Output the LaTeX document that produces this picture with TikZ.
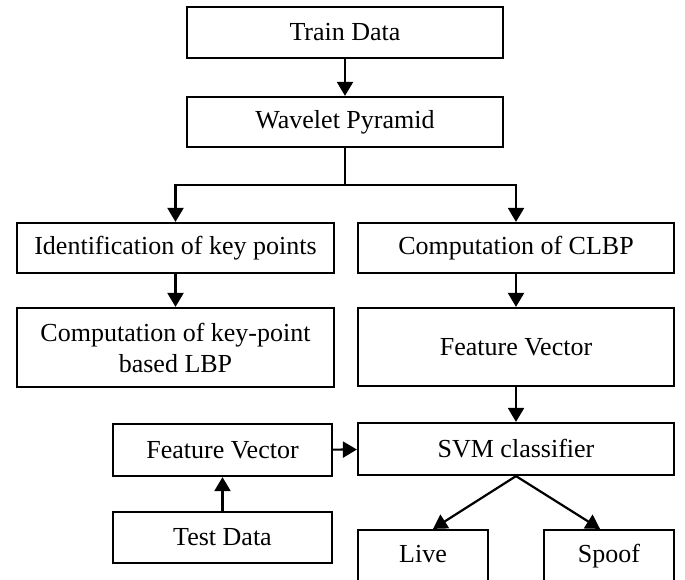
\documentclass[tikz,border=0pt]{standalone}
\usepackage{fontspec}
\setmainfont{Liberation Serif}
\usetikzlibrary{arrows.meta,calc}
\begin{document}
\begin{tikzpicture}[x=1pt,y=-1pt,
  box/.style={draw=black,line width=2.2pt,rectangle,inner sep=0pt,align=center,
    font=\fontsize{26}{31}\selectfont},
  even/.style={text height=18pt,text depth=6pt},
  conn/.style={line width=2.2pt,-{Triangle[length=14pt,width=16pt]}},
  plain/.style={line width=2.2pt}]
\useasboundingbox (0,0) rectangle (685,580);
\node[box,minimum width=316pt,minimum height=51pt] (train) at (345,32.5) {Train Data};
\node[box,minimum width=316pt,minimum height=50pt] (wave) at (345,122) {Wavelet Pyramid};
\node[box,minimum width=317pt,minimum height=50pt] (ident) at (175.5,248) {Identification of key points};
\node[box,minimum width=317pt,minimum height=79pt] (comp) at (175.5,347.5) {Computation of key-point\\based LBP};
\node[box,minimum width=316pt,minimum height=50pt] (clbp) at (516,248) {Computation of CLBP};
\node[box,minimum width=316pt,minimum height=78pt] (fvr) at (516,347) {Feature Vector};
\node[box,minimum width=316pt,minimum height=52pt] (svm) at (516,449) {SVM classifier};
\node[box,minimum width=219pt,minimum height=52pt] (fvl) at (222.5,450) {Feature Vector};
\node[box,minimum width=219pt,minimum height=51pt] (test) at (222.5,537.5) {Test Data};
\node[box,even,minimum width=130pt,minimum height=53pt] (live) at (423,556.5) {Live};
\node[box,even,minimum width=130pt,minimum height=53pt] (spoof) at (609,556.5) {Spoof};
\coordinate (split) at (345,185);
\draw[conn] (train) -- (wave);
\draw[plain] (wave.south) -- (split);
\draw[conn] (split) -| (ident.north);
\draw[conn] (split) -| (clbp.north);
\draw[conn] (ident) -- (comp);
\draw[conn] (clbp) -- (fvr);
\draw[conn] (fvr) -- (svm);
\draw[conn] (test) -- (fvl);
\draw[conn] (fvl) -- (svm);
\draw[conn] (svm.south) -- ([xshift=10pt]live.north);
\draw[conn] (svm.south) -- ([xshift=-9pt]spoof.north);
\end{tikzpicture}
\end{document}
